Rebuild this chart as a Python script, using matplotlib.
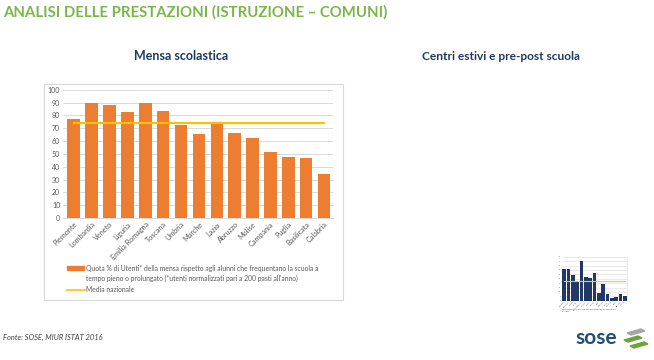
import matplotlib
matplotlib.use("Agg")
import matplotlib.pyplot as plt
from matplotlib.patches import Rectangle, Polygon
from matplotlib.lines import Line2D

# ---------------- data ----------------
regions = ["Piemonte", "Lombardia", "Veneto", "Liguria", "Emilia Romagna", "Toscana",
           "Umbria", "Marche", "Lazio", "Abruzzo", "Molise", "Campania", "Puglia",
           "Basilicata", "Calabria"]
mensa_values = [77.5, 90.0, 88.0, 83.0, 89.5, 83.5, 72.8, 65.2, 74.8, 66.5, 62.0,
                51.3, 47.4, 46.6, 34.0]
mensa_media = 74.3
yticks_mensa = list(range(0, 101, 10))

centri_values = [35.5, 35.5, 29.5, 22.0, 45.5, 26.8, 26.0, 32.0, 9.0, 19.5, 7.8,
                 3.4, 4.2, 7.8, 5.6]
centri_media = 22.8
yticks_centri = list(range(0, 51, 5))

legend_bar = ("Quota % di Utenti* della mensa rispetto agli alunni che frequentano la scuola a\n"
              "tempo pieno o prolungato (*utenti normalizzati pari a 200 pasti all'anno)")
legend_line = "Media nazionale"
title_main = "ANALISI DELLE PRESTAZIONI (ISTRUZIONE \u2013 COMUNI)"
title_left = "Mensa scolastica"
title_right = "Centri estivi e pre-post scuola"
source = "Fonte: SOSE, MIUR ISTAT 2016"

# ---------------- style ----------------
plt.rcParams['font.family'] = ['Lato', 'DejaVu Sans']
ORANGE = "#ED7D31"
YELLOW = "#FFC000"
NAVY = "#1F3864"
GRID = "#D9D9D9"
TXT = "#595959"

W, H = 654, 360
fig = plt.figure(figsize=(W / 100, H / 100), dpi=100)
fig.patch.set_facecolor("white")

def fx(px):
    return px / W

def fy(py):
    return 1 - py / H

# titles
fig.text(fx(3), fy(12), title_main, color="#7AB648", fontsize=10.7, fontweight="bold",
         ha="left", va="center")
fig.text(fx(181), fy(56), title_left, color="#1F3A5F", fontsize=9, fontweight="bold",
         ha="center", va="center")
fig.text(fx(501), fy(56), title_right, color="#1F3A5F", fontsize=8.6, fontweight="bold",
         ha="center", va="center")

# chart frame
fig.patches.append(Rectangle((fx(44), fy(300)), fx(343) - fx(44), fy(84) - fy(300),
                             transform=fig.transFigure, fill=False, edgecolor=GRID, lw=0.8))

# ---------------- main chart ----------------
ax = fig.add_axes([fx(63), fy(218), fx(333) - fx(63), fy(89.7) - fy(218)])
x = list(range(len(regions)))
ax.bar(x, mensa_values, width=0.7, color=ORANGE, zorder=2)
ax.plot([x[0], x[-1]], [mensa_media, mensa_media], color=YELLOW, lw=1.6, zorder=3)
ax.set_xlim(-0.6, len(regions) - 0.5)
ax.set_ylim(0, 100)
ax.set_yticks(yticks_mensa)
ax.set_yticklabels([str(v) for v in yticks_mensa], fontsize=5, color=TXT)
ax.yaxis.grid(True, color=GRID, lw=0.7, zorder=0)
ax.set_axisbelow(True)
ax.set_xticks(x)
ax.set_xticklabels(regions, rotation=45, ha="right", rotation_mode="anchor",
                   fontsize=5.2, color=TXT)
ax.tick_params(axis="both", length=0, pad=2)
for s in ax.spines.values():
    s.set_visible(False)
ax.spines["bottom"].set_visible(True)
ax.spines["bottom"].set_color(GRID)
ax.spines["bottom"].set_linewidth(0.7)

# legend (manual)
fig.patches.append(Rectangle((fx(67), fy(270)), fx(84) - fx(67), fy(266) - fy(270),
                             transform=fig.transFigure, color=ORANGE))
fig.text(fx(85.5), fy(273.5), legend_bar, fontsize=4.9, color=TXT, ha="left", va="center",
         linespacing=1.55)
fig.lines.append(Line2D([fx(67), fx(85)], [fy(290), fy(290)], transform=fig.transFigure,
                        color=YELLOW, lw=1.2))
fig.text(fx(85.5), fy(290), legend_line, fontsize=4.9, color=TXT, ha="left", va="center")

# ---------------- small chart ----------------
ax2 = fig.add_axes([fx(562), fy(300.7), fx(627) - fx(562), fy(256.7) - fy(300.7)])
ax2.bar(x, centri_values, width=0.9, color=NAVY, zorder=2)
ax2.plot([x[0], x[-1]], [centri_media, centri_media], color="#E3DA00", lw=0.8, zorder=3)
ax2.set_xlim(-0.5, len(regions) - 0.5)
ax2.set_ylim(0, 50)
ax2.set_yticks(yticks_centri)
ax2.set_yticklabels([str(v) for v in yticks_centri], fontsize=1.2, color=TXT)
ax2.yaxis.grid(True, color=GRID, lw=0.4, zorder=0)
ax2.set_axisbelow(True)
ax2.set_xticks(x)
ax2.set_xticklabels(regions, rotation=45, ha="right", rotation_mode="anchor",
                    fontsize=1.3, color=TXT)
ax2.tick_params(axis="both", length=0, pad=0.5)
for s in ax2.spines.values():
    s.set_visible(False)
ax2.spines["right"].set_visible(True)
ax2.spines["right"].set_color(GRID)
ax2.spines["right"].set_linewidth(0.4)
fig.text(fx(562), fy(310), "Quota % di utenti dei centri estivi e pre-post scuola rispetto alla popolazione\n0-14 anni",
         fontsize=1.2, color="#333333", ha="left", va="center")

# ---------------- footer ----------------
fig.text(fx(3), fy(337), source, fontsize=5.4, color="#404040", ha="left", va="center",
         style="italic")
fig.text(fx(596), fy(338), "sose", fontsize=15, fontweight="bold", color="#1F4E79",
         ha="center", va="center")
# logo stripes
for (x0, y0, col) in [(627, 333, "#A6A6A6"), (624, 340, "#6BA539"), (630, 346, "#6BA539")]:
    poly = Polygon([(fx(x0), fy(y0)), (fx(x0 + 14), fy(y0 - 4)), (fx(x0 + 18), fy(y0 - 2)),
                    (fx(x0 + 4), fy(y0 + 2))], closed=True, transform=fig.transFigure,
                   color=col)
    fig.patches.append(poly)

fig.savefig("out.png", dpi=100)
